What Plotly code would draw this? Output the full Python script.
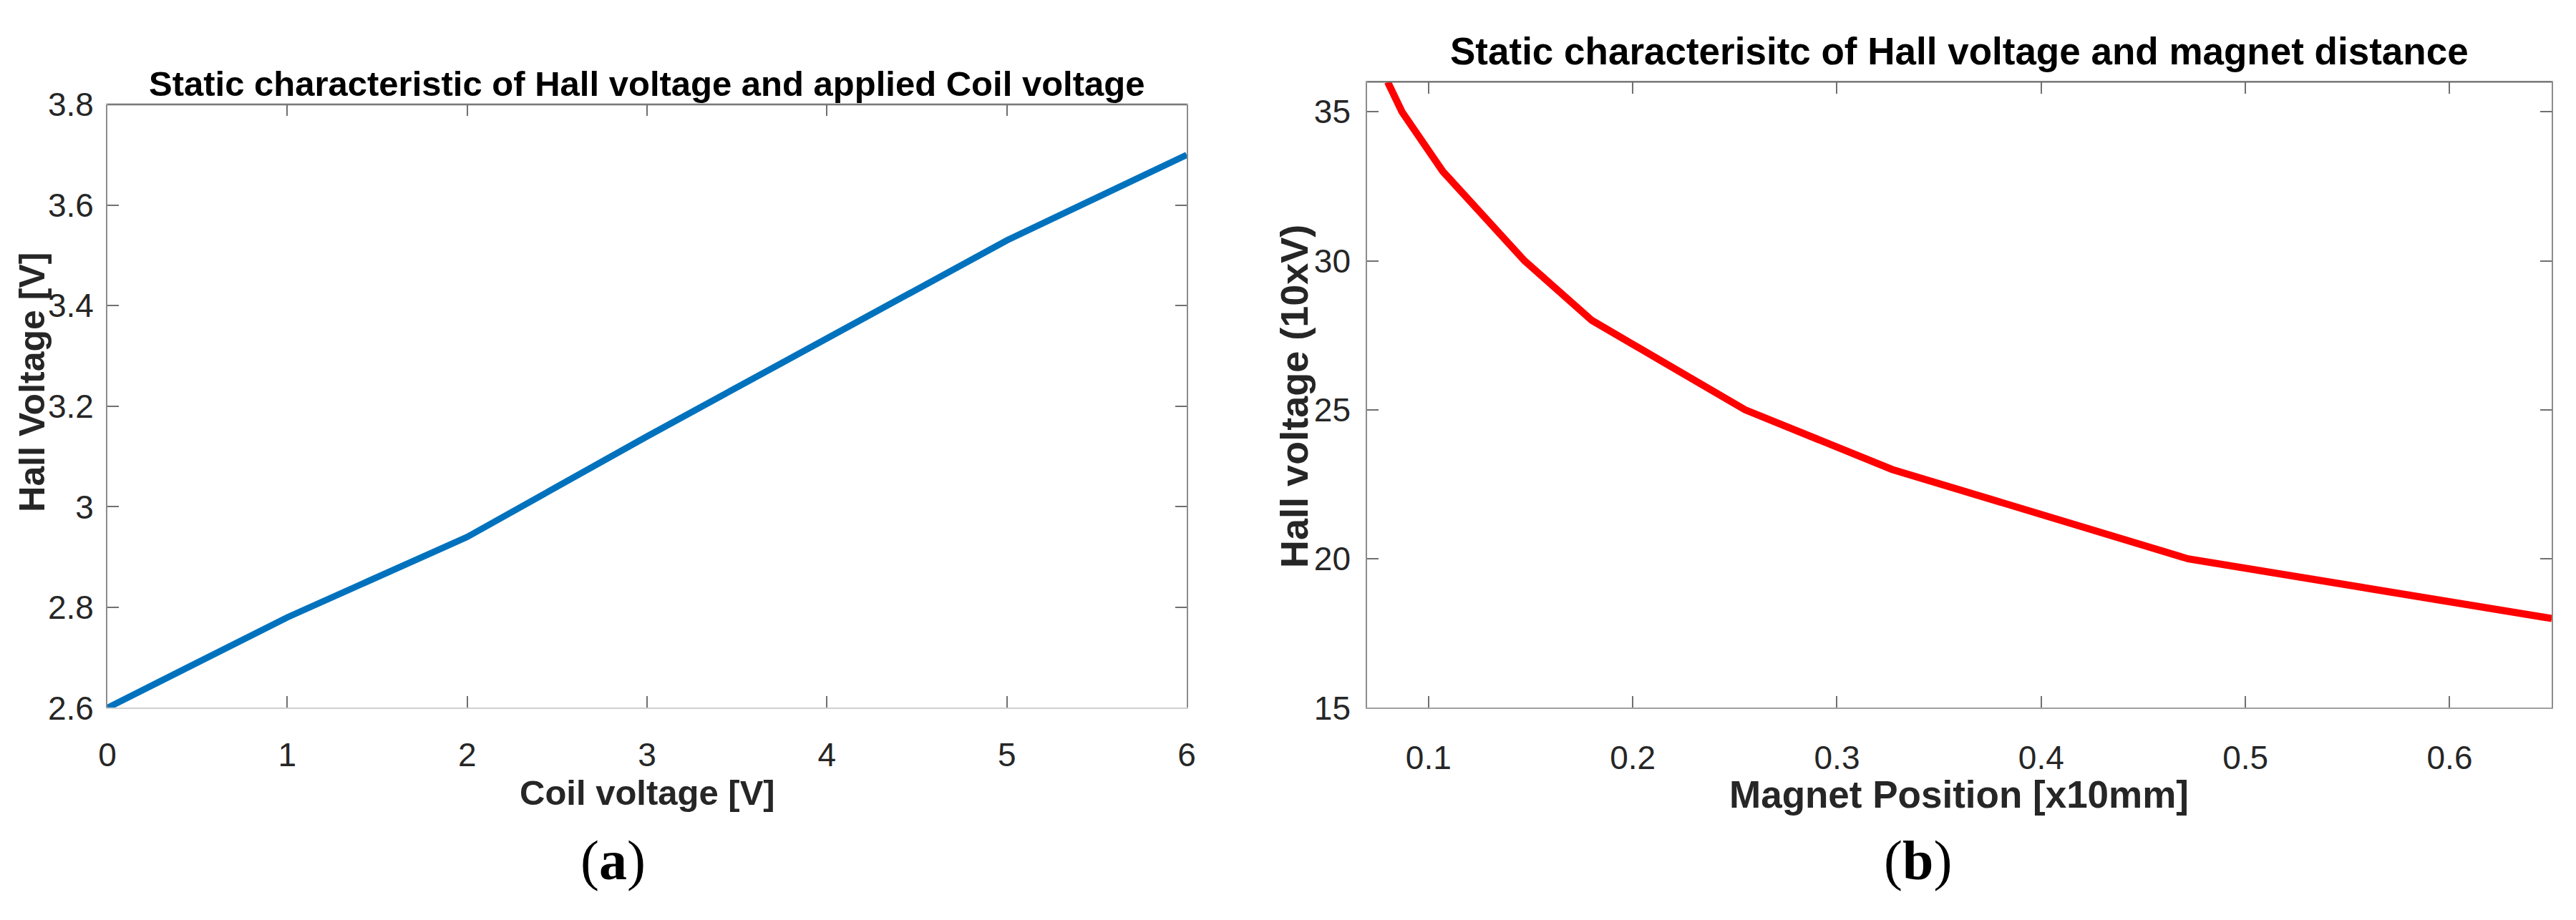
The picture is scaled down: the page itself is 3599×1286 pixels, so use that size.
import plotly.graph_objects as go

# ---------------- data ----------------
coil_voltage = [0, 1, 2, 3, 4, 5, 6]
hall_voltage_a = [2.60, 2.78, 2.94, 3.14, 3.335, 3.53, 3.70]

magnet_position = [0.080, 0.087, 0.107, 0.147, 0.180, 0.255, 0.327, 0.472, 0.650]
hall_voltage_b = [36.0, 35.0, 33.0, 30.0, 28.0, 25.0, 23.0, 20.0, 18.0]

xticks_a = [0, 1, 2, 3, 4, 5, 6]
yticks_a = [2.6, 2.8, 3.0, 3.2, 3.4, 3.6, 3.8]
yticklabels_a = ["2.6", "2.8", "3", "3.2", "3.4", "3.6", "3.8"]
xticks_b = [0.1, 0.2, 0.3, 0.4, 0.5, 0.6]
yticks_b = [15, 20, 25, 30, 35]

title_a = "Static characteristic of Hall voltage and applied Coil voltage"
title_b = "Static characterisitc of Hall voltage and magnet distance"
xlabel_a = "Coil voltage [V]"
ylabel_a = "Hall Voltage [V]"
xlabel_b = "Magnet Position [x10mm]"
ylabel_b = "Hall voltage (10xV)"

# ---------------- geometry (page is offset by the 8px body margin) ----------------
PAGE_W, PAGE_H = 3599, 1286
OFF = 8
W, H = PAGE_W - OFF, PAGE_H - OFF


def px(x):
    return (x - OFF) / W


def py(y):
    return 1 - (y - OFF) / H


FONT = "Liberation Sans, Arial, sans-serif"
TICKCOL = "#262626"

fig = go.Figure()
fig.add_trace(go.Scatter(x=coil_voltage, y=hall_voltage_a, mode="lines",
                         line=dict(color="#0072BD", width=9), xaxis="x", yaxis="y",
                         showlegend=False))
fig.add_trace(go.Scatter(x=magnet_position, y=hall_voltage_b, mode="lines",
                         line=dict(color="#FF0000", width=10), xaxis="x2", yaxis="y2",
                         showlegend=False))


def axis(linecolor, **kw):
    d = dict(showline=True, linecolor=linecolor, linewidth=2, mirror="ticks",
             ticks="inside", ticklen=16, tickwidth=2, tickcolor="#707070",
             showgrid=False, zeroline=False,
             tickfont=dict(family=FONT, size=46, color=TICKCOL))
    d.update(kw)
    return d


fig.update_layout(
    width=W, height=H,
    paper_bgcolor="white", plot_bgcolor="white",
    margin=dict(l=0, r=0, t=0, b=0),
    xaxis=axis("#d0d0d0", domain=[px(138), px(1657)], range=[0, 6], tickvals=xticks_a,
               anchor="y", ticklabelstandoff=24),
    yaxis=axis("#8c8c8c", domain=[py(1004), py(125)], range=[2.6, 3.8],
               tickvals=yticks_a, ticktext=yticklabels_a,
               anchor="x", ticklabelstandoff=8),
    xaxis2=axis("#a0a0a0", domain=[px(1911), px(3578)], range=[0.07, 0.65],
                tickvals=xticks_b, anchor="y2", ticklabelstandoff=28),
    yaxis2=axis("#8c8c8c", domain=[py(1004), py(92)], range=[15, 36], tickvals=yticks_b,
                anchor="x2", ticklabelstandoff=12),
)

# top border of each box
for xr, yr in (("x domain", "y domain"), ("x2 domain", "y2 domain")):
    fig.add_shape(type="line", xref=xr, yref=yr, x0=0, x1=1, y0=1, y1=1,
                  line=dict(color="#6e6e6e", width=2))


def ann(text, x, y, size, bold=True, angle=0, family=FONT, color="black"):
    fig.add_annotation(text=("<b>%s</b>" % text) if bold else text,
                       x=px(x), y=py(y), xref="paper", yref="paper",
                       xanchor="center", yanchor="middle", showarrow=False,
                       textangle=angle, font=dict(family=family, size=size, color=color))


# titles
ann(title_a, 897, 95, 49)
ann(title_b, 2744, 47, 53)
# axis labels
ann(xlabel_a, 898, 1128, 49, color=TICKCOL)
ann(xlabel_b, 2744, 1130, 53, color=TICKCOL)
ann(ylabel_a, 32, 529, 50, angle=-90, color=TICKCOL)
ann(ylabel_b, 1808, 550, 54, angle=-90, color=TICKCOL)
# panel letters
ann("(<b>a</b>)", 850, 1226, 78, bold=False,
    family="Liberation Serif, Times New Roman, serif")
ann("(<b>b</b>)", 2686, 1226, 78, bold=False,
    family="Liberation Serif, Times New Roman, serif")

fig.write_html("out.html")
